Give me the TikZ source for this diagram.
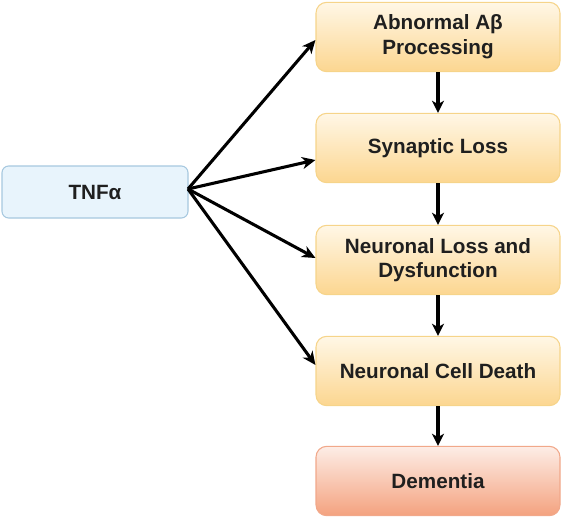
\documentclass[tikz,border=0pt]{standalone}
\usepackage{fontspec}
\setmainfont{Liberation Sans}
\usetikzlibrary{arrows.meta}
\definecolor{ybord}{HTML}{F6D48A}
\definecolor{ytop}{HTML}{FFF7E6}
\definecolor{ybot}{HTML}{FCD690}
\definecolor{bfill}{HTML}{E8F4FC}
\definecolor{bbord}{HTML}{A6C8DF}
\definecolor{rtop}{HTML}{FDEDE6}
\definecolor{rbot}{HTML}{F4A27F}
\definecolor{rbord}{HTML}{F1A88A}
\tikzset{
  px/.style={x=0.75pt,y=-0.75pt},
  box/.style={rounded corners=8pt, minimum width=183pt, minimum height=52pt, align=center,
    font=\fontsize{15.5}{18.5}\selectfont\bfseries, text=black!88, line width=0.8pt, inner sep=0pt},
  ybox/.style={box, draw=ybord, top color=ytop, bottom color=ybot},
  rbox/.style={box, draw=rbord, top color=rtop, bottom color=rbot},
  bbox/.style={box, draw=bbord, fill=bfill, minimum width=139.5pt, minimum height=39pt, rounded corners=5pt},
  arr/.style={line width=2.3pt, -{Stealth[length=10pt,width=9pt,inset=3pt]}},
  varr/.style={line width=2.8pt, -{Stealth[length=9pt,width=9pt,inset=2.5pt]}}
}
\begin{document}
\begin{tikzpicture}[px]
\useasboundingbox (0,0) rectangle (562,519);
\node[bbox] (tnf) at (95,192) {TNF\symbol{"03B1}};
\node[ybox] (b1) at (438,37) {Abnormal A\symbol{"03B2}\\Processing};
\node[ybox] (b2) at (438,148) {Synaptic Loss};
\node[ybox] (b3) at (438,260) {Neuronal Loss and\\Dysfunction};
\node[ybox] (b4) at (438,371) {Neuronal Cell Death};
\node[rbox] (b5) at (438,481) {Dementia};
\coordinate (o) at (188,189);
\draw[arr] (o) -- (b1.west |- 0,40);
\draw[arr] (o) -- (b2.west |- 0,160);
\draw[arr] (o) -- (b3.west |- 0,258);
\draw[arr] (o) -- (b4.west |- 0,365);
\draw[varr] (b1) -- (b2);
\draw[varr] (b2) -- (b3);
\draw[varr] (b3) -- (b4);
\draw[varr] (b4) -- (b5);
\end{tikzpicture}
\end{document}
